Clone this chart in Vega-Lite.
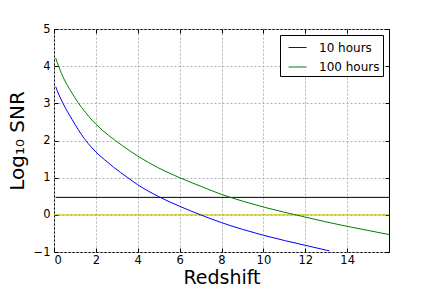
{
  "$schema": "https://vega.github.io/schema/vega-lite/v6.json",
  "width": 335,
  "height": 223,
  "autosize": {"type": "none"},
  "padding": {"left": 54, "top": 29, "right": 43, "bottom": 36},
  "background": "white",
  "config": {
    "view": {"stroke": "black", "strokeWidth": 1},
    "font": "DejaVu Sans",
    "axis": {
      "gridColor": "#b0b0b0",
      "gridDash": [2, 2],
      "gridWidth": 1,
      "gridOpacity": 1,
      "domain": false,
      "tickColor": "black",
      "tickSize": -4,
      "tickWidth": 1,
      "labelFont": "DejaVu Sans",
      "labelFontSize": 11.5,
      "labelColor": "black",
      "titleFont": "DejaVu Sans",
      "titleFontSize": 20,
      "titleFontWeight": "normal",
      "titleColor": "black"
    }
  },
  "datasets": {
    "curves": [
      {"z": 0.08, "snr": 3.45, "series": "10 hours"},
      {"z": 0.22, "snr": 3.25, "series": "10 hours"},
      {"z": 0.43, "snr": 3.0, "series": "10 hours"},
      {"z": 0.65, "snr": 2.77, "series": "10 hours"},
      {"z": 0.86, "snr": 2.57, "series": "10 hours"},
      {"z": 1.15, "snr": 2.3, "series": "10 hours"},
      {"z": 1.45, "snr": 2.05, "series": "10 hours"},
      {"z": 1.8, "snr": 1.81, "series": "10 hours"},
      {"z": 2.0, "snr": 1.69, "series": "10 hours"},
      {"z": 2.4, "snr": 1.49, "series": "10 hours"},
      {"z": 2.85, "snr": 1.28, "series": "10 hours"},
      {"z": 3.5, "snr": 1.01, "series": "10 hours"},
      {"z": 4.0, "snr": 0.81, "series": "10 hours"},
      {"z": 5.0, "snr": 0.49, "series": "10 hours"},
      {"z": 6.0, "snr": 0.23, "series": "10 hours"},
      {"z": 7.0, "snr": 0.0, "series": "10 hours"},
      {"z": 8.0, "snr": -0.21, "series": "10 hours"},
      {"z": 9.0, "snr": -0.39, "series": "10 hours"},
      {"z": 10.0, "snr": -0.55, "series": "10 hours"},
      {"z": 11.0, "snr": -0.69, "series": "10 hours"},
      {"z": 12.0, "snr": -0.82, "series": "10 hours"},
      {"z": 13.0, "snr": -0.95, "series": "10 hours"},
      {"z": 13.15, "snr": -0.97, "series": "10 hours"},
      {"z": 0.08, "snr": 4.22, "series": "100 hours"},
      {"z": 0.22, "snr": 4.0, "series": "100 hours"},
      {"z": 0.5, "snr": 3.63, "series": "100 hours"},
      {"z": 0.8, "snr": 3.33, "series": "100 hours"},
      {"z": 1.15, "snr": 3.02, "series": "100 hours"},
      {"z": 1.5, "snr": 2.76, "series": "100 hours"},
      {"z": 1.81, "snr": 2.55, "series": "100 hours"},
      {"z": 2.0, "snr": 2.44, "series": "100 hours"},
      {"z": 2.3, "snr": 2.28, "series": "100 hours"},
      {"z": 2.93, "snr": 2.0, "series": "100 hours"},
      {"z": 3.6, "snr": 1.73, "series": "100 hours"},
      {"z": 4.0, "snr": 1.58, "series": "100 hours"},
      {"z": 5.0, "snr": 1.26, "series": "100 hours"},
      {"z": 6.0, "snr": 1.0, "series": "100 hours"},
      {"z": 7.0, "snr": 0.77, "series": "100 hours"},
      {"z": 8.0, "snr": 0.55, "series": "100 hours"},
      {"z": 9.0, "snr": 0.37, "series": "100 hours"},
      {"z": 10.0, "snr": 0.21, "series": "100 hours"},
      {"z": 11.0, "snr": 0.07, "series": "100 hours"},
      {"z": 12.0, "snr": -0.06, "series": "100 hours"},
      {"z": 13.0, "snr": -0.19, "series": "100 hours"},
      {"z": 14.0, "snr": -0.31, "series": "100 hours"},
      {"z": 15.0, "snr": -0.42, "series": "100 hours"},
      {"z": 16.0, "snr": -0.53, "series": "100 hours"}
    ],
    "hlines": [
      {"z": 0.0, "snr": 0.0, "line": "zero"},
      {"z": 16.0, "snr": 0.0, "line": "zero"},
      {"z": 0.08, "snr": 0.47, "line": "limit"},
      {"z": 16.0, "snr": 0.47, "line": "limit"}
    ]
  },
  "layer": [
    {
      "data": {"name": "hlines"},
      "transform": [{"filter": "datum.line == 'zero'"}],
      "mark": {"type": "line", "color": "#bfbf00", "strokeWidth": 1, "clip": true},
      "encoding": {
        "x": {"field": "z", "type": "quantitative", "axis": null},
        "y": {"field": "snr", "type": "quantitative", "axis": null}
      }
    },
    {
      "data": {"name": "hlines"},
      "transform": [{"filter": "datum.line == 'limit'"}],
      "mark": {"type": "line", "color": "black", "strokeWidth": 1, "clip": true},
      "encoding": {
        "x": {"field": "z", "type": "quantitative", "axis": null},
        "y": {"field": "snr", "type": "quantitative", "axis": null}
      }
    },
    {
      "data": {"name": "curves"},
      "mark": {"type": "line", "strokeWidth": 1, "clip": true, "interpolate": "monotone"},
      "encoding": {
        "x": {
          "field": "z",
          "type": "quantitative",
          "scale": {"domain": [0, 16], "nice": false, "zero": false},
          "axis": {
            "orient": "bottom",
            "grid": true,
            "values": [0, 2, 4, 6, 8, 10, 12, 14],
            "title": "Redshift",
            "titleFontSize": 19,
            "labelPadding": 6,
            "titleY": 31.4,
            "titleBaseline": "alphabetic"
          }
        },
        "y": {
          "field": "snr",
          "type": "quantitative",
          "scale": {"domain": [-1, 5], "nice": false, "zero": false},
          "axis": {
            "orient": "left",
            "grid": true,
            "values": [-1, 0, 1, 2, 3, 4, 5],
            "title": "Log₁₀ SNR",
            "labelPadding": 8,
            "titleX": -30.5,
            "titleY": 111.5,
            "titleAngle": -90,
            "titleAlign": "center",
            "titleBaseline": "alphabetic"
          }
        },
        "color": {
          "field": "series",
          "type": "nominal",
          "scale": {"domain": ["10 hours", "100 hours"], "range": ["#0000ff", "#008000"]},
          "legend": {
            "orient": "none",
            "legendX": 226,
            "legendY": 6,
            "title": null,
            "strokeColor": "black",
            "fillColor": "white",
            "padding": 3,
            "cornerRadius": 0,
            "symbolType": "stroke",
            "symbolSize": 324,
            "symbolStrokeWidth": 1,
            "symbolOffset": 5,
            "labelFont": "DejaVu Sans",
            "labelFontSize": 12,
            "labelColor": "black",
            "labelOffset": 12,
            "rowPadding": 3.5
          }
        }
      }
    },
    {
      "data": {"name": "curves"},
      "mark": {"type": "line", "opacity": 0},
      "encoding": {
        "x": {
          "field": "z",
          "type": "quantitative",
          "axis": {"orient": "top", "values": [0, 2, 4, 6, 8, 10, 12, 14], "labels": false, "title": null, "grid": false}
        },
        "y": {
          "field": "snr",
          "type": "quantitative",
          "axis": {"orient": "right", "values": [-1, 0, 1, 2, 3, 4, 5], "labels": false, "title": null, "grid": false}
        },
        "detail": {"field": "series", "type": "nominal"}
      }
    }
  ],
  "resolve": {"axis": {"x": "independent", "y": "independent"}}
}
